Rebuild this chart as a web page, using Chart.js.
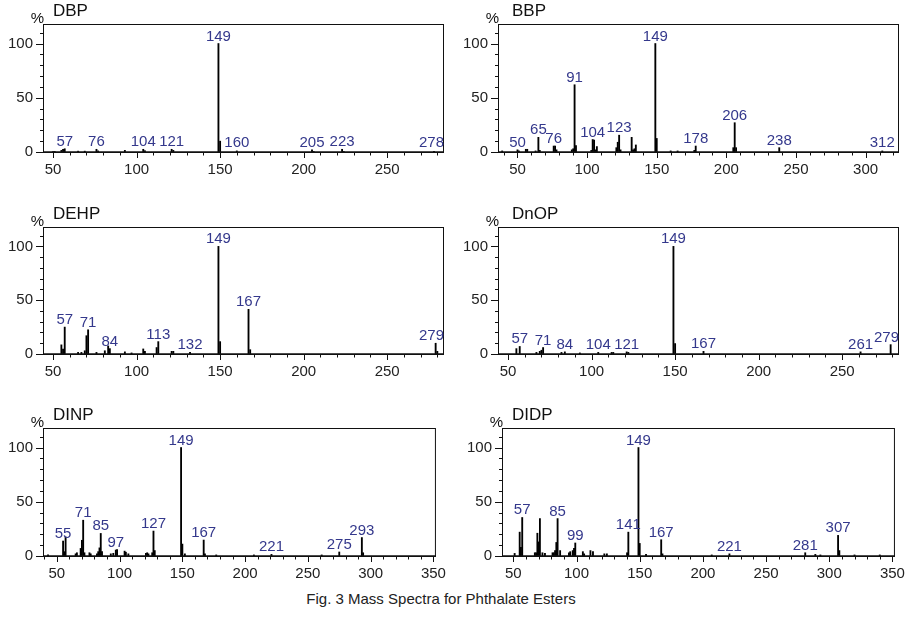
<!DOCTYPE html>
<html>
<head>
<meta charset="utf-8">
<script src="https://cdn.jsdelivr.net/npm/chart.js@4.4.0/dist/chart.umd.min.js"></script>
<style>
  body { margin: 0; background: #fff; width: 917px; height: 618px; position: relative; overflow: hidden; font-family: "Liberation Sans", Arial, sans-serif; }
  canvas { position: absolute; }
  .caption { position: absolute; left: 0; width: 882px; top: 590px; text-align: center; font-size: 15px; color: #222; }
</style>
</head>
<body>
<canvas id="dbp" width="455" height="182" style="left:0;top:0"></canvas>
<canvas id="bbp" width="455" height="182" style="left:455px;top:0"></canvas>
<canvas id="dehp" width="455" height="181" style="left:0;top:203px"></canvas>
<canvas id="dnop" width="455" height="181" style="left:455px;top:203px"></canvas>
<canvas id="dinp" width="455" height="182" style="left:0;top:404px"></canvas>
<canvas id="didp" width="455" height="182" style="left:459px;top:404px"></canvas>
<div class="caption">Fig. 3 Mass Spectra for Phthalate Esters</div>

<script>
// ---- spectra (m/z, relative intensity %) and labelled peaks ----
const dbpMz   = [50, 51, 55, 56, 57, 65, 69, 76, 77, 93, 104, 105, 121, 122, 149, 150, 160, 205, 206, 223, 224, 278];
const dbpInt  = [0.5, 0.5, 1.5, 2.5, 3, 0.8, 0.8, 2.5, 1, 1.5, 2.5, 1.2, 2.5, 1.5, 100, 10, 1, 2, 0.5, 2.5, 0.5, 0.6];
const dbpTags = [57, 76, 104, 121, 149, 160, 205, 223, 278];

const bbpMz   = [39, 50, 51, 56, 57, 63, 65, 66, 76, 77, 78, 89, 90, 91, 92, 103, 104, 105, 106, 107, 121, 122, 123, 124, 132, 133, 134, 135, 149, 150, 160, 165, 177, 178, 205, 206, 207, 238, 312];
const bbpInt  = [1, 2, 1, 2.5, 2.5, 1, 13.5, 1.5, 5.5, 5.5, 2, 2, 3, 62, 6, 1.5, 11.5, 11, 2, 5, 4, 9, 15.5, 2, 13.5, 2, 3, 6.5, 100, 12.5, 1, 1, 1.5, 5.5, 4, 27, 4, 4, 1];
const bbpTags = [50, 65, 76, 91, 104, 123, 149, 178, 206, 238, 312];

const dehpMz   = [55, 56, 57, 65, 67, 69, 70, 71, 76, 81, 83, 84, 93, 97, 104, 105, 112, 113, 121, 122, 132, 149, 150, 167, 168, 279, 280];
const dehpInt  = [8.5, 4.5, 25, 1.5, 1.5, 3, 17, 22.5, 1.5, 3, 7.5, 5, 2, 1, 4.7, 2.5, 6, 11.5, 2.5, 2.5, 1.5, 100, 11.5, 41.5, 4, 10, 2.5];
const dehpTags = [57, 71, 84, 113, 132, 149, 167, 279];

const dnopMz   = [55, 57, 67, 69, 70, 71, 82, 84, 93, 104, 112, 113, 121, 122, 149, 150, 167, 261, 279];
const dnopInt  = [5, 7, 1.5, 2.5, 3.5, 6, 1.5, 2, 1, 1.5, 1.5, 1.5, 2, 1.5, 100, 9.7, 2.5, 2, 8.7];
const dnopTags = [57, 71, 84, 104, 121, 149, 167, 261, 279];

const dinpMz   = [43, 55, 56, 57, 65, 66, 69, 70, 71, 72, 76, 77, 82, 83, 84, 85, 86, 93, 95, 97, 98, 104, 105, 107, 121, 122, 123, 126, 127, 128, 149, 150, 152, 167, 168, 177, 207, 221, 261, 275, 293, 294];
const dinpInt  = [1, 13.8, 4, 17.5, 2, 3, 7, 14.5, 33, 3, 3, 2, 2, 4, 7.5, 20.8, 4, 2, 2.5, 5.5, 6, 4.5, 3.5, 2, 2.5, 3, 2, 3, 23, 5, 100, 11, 2, 14.7, 2, 1, 1, 1.5, 1, 3.7, 17, 3];
const dinpTags = [55, 71, 85, 97, 127, 149, 167, 221, 275, 293];

const didpMz   = [51, 55, 56, 57, 67, 68, 69, 70, 71, 73, 75, 81, 82, 83, 84, 85, 87, 94, 95, 97, 98, 99, 105, 106, 111, 113, 122, 124, 140, 141, 149, 150, 155, 167, 168, 207, 221, 281, 289, 293, 307, 308, 320, 340];
const didpInt  = [2.4, 22, 8, 35.5, 3, 3, 21, 13, 34.5, 3, 2.5, 3, 3, 5, 12.5, 34.5, 5, 3, 4, 5, 7, 12, 4, 2, 5, 4, 2, 2, 3, 22, 100, 11.6, 1.5, 15, 2, 1, 2, 3, 1.5, 1, 19, 5, 1, 1];
const didpTags = [57, 85, 99, 141, 149, 167, 221, 281, 307];

const FONT = '"Liberation Sans", Arial, sans-serif';
const LABEL_BLUE = '#34388c';
Chart.defaults.font.family = FONT;

// frame, minor/major tick marks, title, "%" and the peak labels
const spectrumDecor = {
  id: 'spectrumDecor',
  afterDraw(chart, args, opts) {
    const { ctx, chartArea: a, scales: { x, y } } = chart;
    const ds = chart.data.datasets[0].data;
    ctx.save();
    ctx.strokeStyle = '#111';
    ctx.lineWidth = 1;
    ctx.strokeRect(a.left + 0.5, a.top + 0.5, a.right - a.left - 1, a.bottom - a.top);
    ctx.lineWidth = 1.6;
    ctx.beginPath(); ctx.moveTo(a.left, a.bottom); ctx.lineTo(a.right, a.bottom); ctx.stroke();

    ctx.lineWidth = 1;
    ctx.beginPath();
    for (let v = Math.ceil(x.min / 10) * 10; v <= x.max; v += 10) {
      const px = Math.round(x.getPixelForValue(v)) + 0.5;
      ctx.moveTo(px, a.bottom);
      ctx.lineTo(px, a.bottom + (v % 50 === 0 ? 6 : 3.5));
    }
    for (let v = 0; v <= y.max; v += 10) {
      const py = Math.round(y.getPixelForValue(v)) + 0.5;
      ctx.moveTo(a.left, py);
      ctx.lineTo(a.left - (v % 50 === 0 ? 7 : 3), py);
    }
    ctx.stroke();

    ctx.fillStyle = '#111';
    ctx.textBaseline = 'alphabetic';
    ctx.font = '17px ' + FONT;
    ctx.textAlign = 'left';
    ctx.fillText(opts.title, a.left + opts.titleDx, a.top - 8);
    ctx.font = '15px ' + FONT;
    ctx.textAlign = 'right';
    ctx.fillText('%', a.left + 1, a.top - 1);

    ctx.fillStyle = LABEL_BLUE;
    ctx.textAlign = 'center';
    opts.tags.forEach(m => {
      const pt = ds.find(d => d.x === m);
      const py = y.getPixelForValue(pt ? pt.y : 0) - 3;
      const t = String(m);
      const w = ctx.measureText(t).width;
      let px = x.getPixelForValue(m);
      px = Math.min(Math.max(px, a.left + w / 2 + 2), a.right - w / 2);
      ctx.fillText(t, px, Math.min(py, a.bottom - 5));
    });
    ctx.restore();
  }
};

function drawSpectrum(id, title, mz, inten, tags, xMin, xMax, padRight, titleDx) {
  const canvas = document.getElementById(id);
  return new Chart(canvas, {
    type: 'bar',
    data: {
      datasets: [{
        data: mz.map((m, i) => ({ x: m, y: inten[i] })),
        backgroundColor: '#000',
        borderWidth: 0,
        barThickness: 1.2
      }]
    },
    options: {
      responsive: false,
      animation: false,
      devicePixelRatio: 1,
      layout: { padding: { top: 24, right: padRight, left: 0, bottom: 0 } },
      plugins: {
        legend: { display: false },
        tooltip: { enabled: false },
        spectrumDecor: { title: title, tags: tags, titleDx: titleDx }
      },
      scales: {
        x: {
          type: 'linear',
          min: xMin,
          max: xMax,
          offset: false,
          grid: { display: false, drawTicks: false, offset: false },
          border: { display: false },
          ticks: { stepSize: 50, includeBounds: false, autoSkip: false, maxRotation: 0, padding: 9, color: '#222', font: { size: 15 } },
          afterFit: s => { s.height = 30; }
        },
        y: {
          min: 0,
          max: 118,
          grid: { display: false, drawTicks: false },
          border: { display: false },
          ticks: { stepSize: 50, includeBounds: false, padding: 10, color: '#222', font: { size: 15 } },
          afterFit: s => { s.width = 43; }
        }
      }
    },
    plugins: [spectrumDecor]
  });
}

drawSpectrum('dbp', 'DBP', dbpMz, dbpInt, dbpTags, 44, 284, 11, 10);
drawSpectrum('bbp', 'BBP', bbpMz, bbpInt, bbpTags, 36, 324, 11, 14);
drawSpectrum('dehp', 'DEHP', dehpMz, dehpInt, dehpTags, 44, 284, 11, 10);
drawSpectrum('dnop', 'DnOP', dnopMz, dnopInt, dnopTags, 44, 284, 11, 14);
drawSpectrum('dinp', 'DINP', dinpMz, dinpInt, dinpTags, 39, 352, 11, 10);
drawSpectrum('didp', 'DIDP', didpMz, didpInt, didpTags, 41, 352, 12, 10);
</script>
</body>
</html>
